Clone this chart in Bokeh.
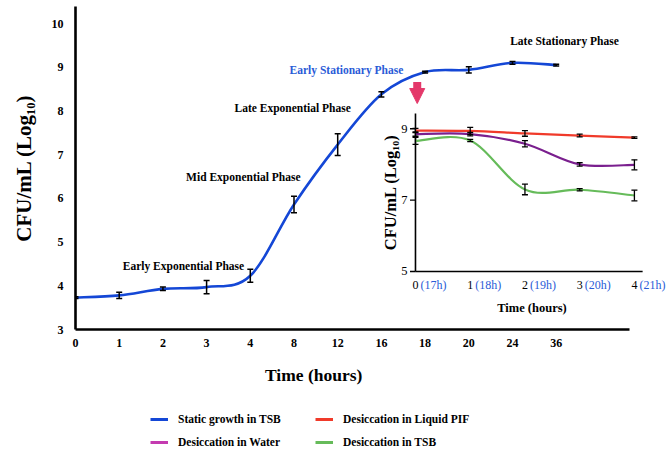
import math
from bokeh.plotting import figure
from bokeh.layouts import column
from bokeh.models import (Range1d, FixedTicker, Label, Legend, LegendItem, Arrow,
                          NormalHead, ColumnDataSource)
from bokeh.core.properties import value
from bokeh.embed import file_html
from bokeh.resources import INLINE

# ---------------- data ----------------
hour_labels = ["0", "1", "2", "3", "4", "8", "12", "16", "18", "20", "24", "36"]
growth = [3.73, 3.78, 3.93, 3.97, 4.23, 5.86, 7.23, 8.38, 8.89, 8.94, 9.10, 9.05]
growth_err = [0.02, 0.07, 0.04, 0.15, 0.15, 0.19, 0.25, 0.06, 0.02, 0.07, 0.03, 0.02]

inset_x = [0, 1, 2, 3, 4]
inset_tick_labels = ["0", "1", "2", "3", "4"]
inset_hour_labels = ["(17h)", "(18h)", "(19h)", "(20h)", "(21h)"]
pif = [8.95, 8.94, 8.87, 8.81, 8.75]
pif_err = [0.06, 0.10, 0.08, 0.04, 0.02]
water = [8.85, 8.85, 8.58, 8.00, 7.99]
water_err = [0.06, 0.05, 0.09, 0.05, 0.14]
tsb = [8.66, 8.67, 7.30, 7.29, 7.13]
tsb_err = [0.10, 0.03, 0.15, 0.03, 0.15]

phase_labels = ["Early Exponential Phase", "Mid Exponential Phase", "Late Exponential Phase",
                "Early Stationary Phase", "Late Stationary Phase"]
legend_labels = ["Static growth in TSB", "Desiccation in Liquid PIF",
                 "Desiccation in Water", "Desiccation in TSB"]

main_y_ticks = [3, 4, 5, 6, 7, 8, 9, 10]
inset_y_ticks = [5, 7, 9]

# ---------------- styles ----------------
FONT = "Liberation Serif"
BLUE = "#1447d6"
RED = "#f03a2a"
PURPLE = "#7a1f8e"
MAGENTA = "#c43bb0"
GREEN = "#66bb5a"
TXT_BLUE = "#2a5bd7"


def catmull_bezier(xs, ys):
    n = len(xs)
    out = dict(x0=[], y0=[], x1=[], y1=[], cx0=[], cy0=[], cx1=[], cy1=[])
    for i in range(n - 1):
        xp, yp = (xs[i - 1], ys[i - 1]) if i > 0 else (xs[i], ys[i])
        xn, yn = (xs[i + 2], ys[i + 2]) if i + 2 < n else (xs[i + 1], ys[i + 1])
        out["x0"].append(xs[i]); out["y0"].append(ys[i])
        out["x1"].append(xs[i + 1]); out["y1"].append(ys[i + 1])
        out["cx0"].append(xs[i] + (xs[i + 1] - xp) / 6)
        out["cy0"].append(ys[i] + (ys[i + 1] - yp) / 6)
        out["cx1"].append(xs[i + 1] - (xn - xs[i]) / 6)
        out["cy1"].append(ys[i + 1] - (yn - ys[i]) / 6)
    return out


def err_bars(api, xs, ys, es, width=1.5):
    lo = [y - e for y, e in zip(ys, es)]
    hi = [y + e for y, e in zip(ys, es)]
    api.segment(x0=xs, y0=lo, x1=xs, y1=hi, line_color="black", line_width=width)
    api.scatter(x=xs + xs, y=lo + hi, marker="dash", size=6, line_color="black", line_width=width)


def no_ticks(ax):
    ax.major_tick_out = 0
    ax.major_tick_in = 0
    ax.minor_tick_out = 0
    ax.minor_tick_in = 0


X_RANGE = (0, 13.57)

p = figure(width=668, height=356, x_range=Range1d(*X_RANGE), y_range=Range1d(3, 10.39),
           output_backend="svg", toolbar_location=None,
           min_border_left=75, min_border_right=0, min_border_top=6, min_border_bottom=27)
p.outline_line_color = None
p.xgrid.visible = False
p.ygrid.visible = False
p.background_fill_color = "white"

xax = p.xaxis[0]
xax.ticker = FixedTicker(ticks=list(range(len(hour_labels))))
xax.major_label_overrides = {i: s for i, s in enumerate(hour_labels)}
xax.bounds = (-0.16, 12.68)
yax = p.yaxis[0]
yax.ticker = FixedTicker(ticks=main_y_ticks)
for ax in (xax, yax):
    ax.axis_line_width = 2.6
    ax.axis_line_color = "black"
    no_ticks(ax)
    ax.major_label_text_font = FONT
    ax.major_label_text_font_style = "bold"
    ax.major_label_text_font_size = "12px"
    ax.major_label_text_color = "black"
xax.major_label_standoff = 9
yax.major_label_standoff = 12
yax.axis_label = "CFU/mL (Log₁₀)"
yax.axis_label_text_font = FONT
yax.axis_label_text_font_style = "bold"
yax.axis_label_text_font_size = "21px"
yax.axis_label_standoff = 13
yax.axis_label_text_color = "black"

# main curve
xs_main = list(range(len(growth)))
p.bezier(source=ColumnDataSource(catmull_bezier(xs_main, growth)), x0="x0", y0="y0", x1="x1",
         y1="y1", cx0="cx0", cy0="cy0", cx1="cx1", cy1="cy1", line_color=BLUE, line_width=2.6)
err_bars(p, xs_main, growth, growth_err)

# phase annotations
phase_pos = [(2.47, 4.46), (3.84, 6.50), (4.97, 8.06), (6.20, 8.93), (11.19, 9.61)]
for lab, (lx, ly) in zip(phase_labels, phase_pos):
    p.add_layout(Label(x=lx, y=ly, text=lab, text_align="center", text_baseline="middle",
                       text_font=FONT, text_font_style="bold", text_font_size="11.5px",
                       text_color=TXT_BLUE if lab == "Early Stationary Phase" else "black"))

# pink arrow
p.add_layout(Arrow(x_start=7.82, y_start=8.66, x_end=7.82, y_end=8.17, line_color="#e4386a",
                   line_width=8, end=NormalHead(size=15, fill_color="#e4386a", line_color="#e4386a")))

# ---------------- inset ----------------
ins = p.subplot(x_source=Range1d(0, 4), y_source=Range1d(5, 9),
                x_target=Range1d(7.78, 12.79), y_target=Range1d(4.327, 7.593))
ins.segment(x0=[0, 0], y0=[5, 5], x1=[0, 4.15], y1=[9.43, 5], line_color="black", line_width=1.6)
ins.segment(x0=[0] * len(inset_y_ticks), y0=inset_y_ticks, x1=[-0.1] * len(inset_y_ticks),
            y1=inset_y_ticks, line_color="black", line_width=1.4)
ins.text(x=[0] * len(inset_y_ticks), y=inset_y_ticks, text=[str(t) for t in inset_y_ticks],
         x_offset=-8, text_align="right", text_baseline="middle",
         text_font=value(FONT), text_font_size="12.5px", text_color="black")
ins.text(x=inset_x, y=[5] * len(inset_x), text=inset_tick_labels, y_offset=14,
         text_align="center", text_baseline="middle",
         text_font=value(FONT), text_font_size="12px", text_color="black")
ins.text(x=inset_x, y=[5] * len(inset_x), text=inset_hour_labels, y_offset=14, x_offset=5,
         text_align="left", text_baseline="middle",
         text_font=value(FONT), text_font_size="12px", text_color=TXT_BLUE)
ins.text(x=[2], y=[5], text=["Time (hours)"], x_offset=7, y_offset=37,
         text_align="center", text_baseline="middle", text_font=value(FONT),
         text_font_style="bold", text_font_size="12.5px", text_color="black")
ins.text(x=[0], y=[7.22], text=["CFU/mL (Log₁₀)"], x_offset=-25, angle=math.pi / 2,
         text_align="center", text_baseline="middle", text_font=value(FONT),
         text_font_style="bold", text_font_size="16.5px", text_color="black")

for ys, col in ((tsb, GREEN), (water, PURPLE), (pif, RED)):
    ins.bezier(source=ColumnDataSource(catmull_bezier(inset_x, ys)), x0="x0", y0="y0", x1="x1",
               y1="y1", cx0="cx0", cy0="cy0", cx1="cx1", cy1="cy1", line_color=col, line_width=2.2)
for ys, es in ((tsb, tsb_err), (water, water_err), (pif, pif_err)):
    err_bars(ins, inset_x, ys, es, width=1.3)

# ---------------- strip below: x-axis title and legend ----------------
lf = figure(width=668, height=95, x_range=Range1d(*X_RANGE), y_range=Range1d(0, 1),
            output_backend="svg", toolbar_location=None,
            min_border_left=75, min_border_right=0, min_border_top=0, min_border_bottom=0,
            x_axis_location=None, y_axis_location=None)
lf.outline_line_color = None
lf.xgrid.visible = False
lf.ygrid.visible = False
lf.add_layout(Label(x=5.45, y=0.81, text="Time (hours)", text_align="center",
                    text_baseline="middle", text_font=FONT, text_font_style="bold",
                    text_font_size="17.5px", text_color="black"))
leg_items = []
for lab, col in zip(legend_labels, [BLUE, RED, MAGENTA, GREEN]):
    r = lf.line(x=[float("nan")], y=[float("nan")], line_color=col, line_width=3)
    leg_items.append(LegendItem(label=lab, renderers=[r]))
legend = Legend(items=leg_items, location=(75, 2), orientation="horizontal", ncols=2,
                glyph_width=18, glyph_height=14, label_width=128, label_height=14,
                label_standoff=10, spacing=9, padding=0, margin=0,
                border_line_color=None, background_fill_alpha=0,
                label_text_font=FONT, label_text_font_style="bold",
                label_text_font_size="11.5px", label_text_color="black")
lf.add_layout(legend, "center")

open("out.html", "w").write(file_html(column(p, lf, spacing=0), INLINE))
